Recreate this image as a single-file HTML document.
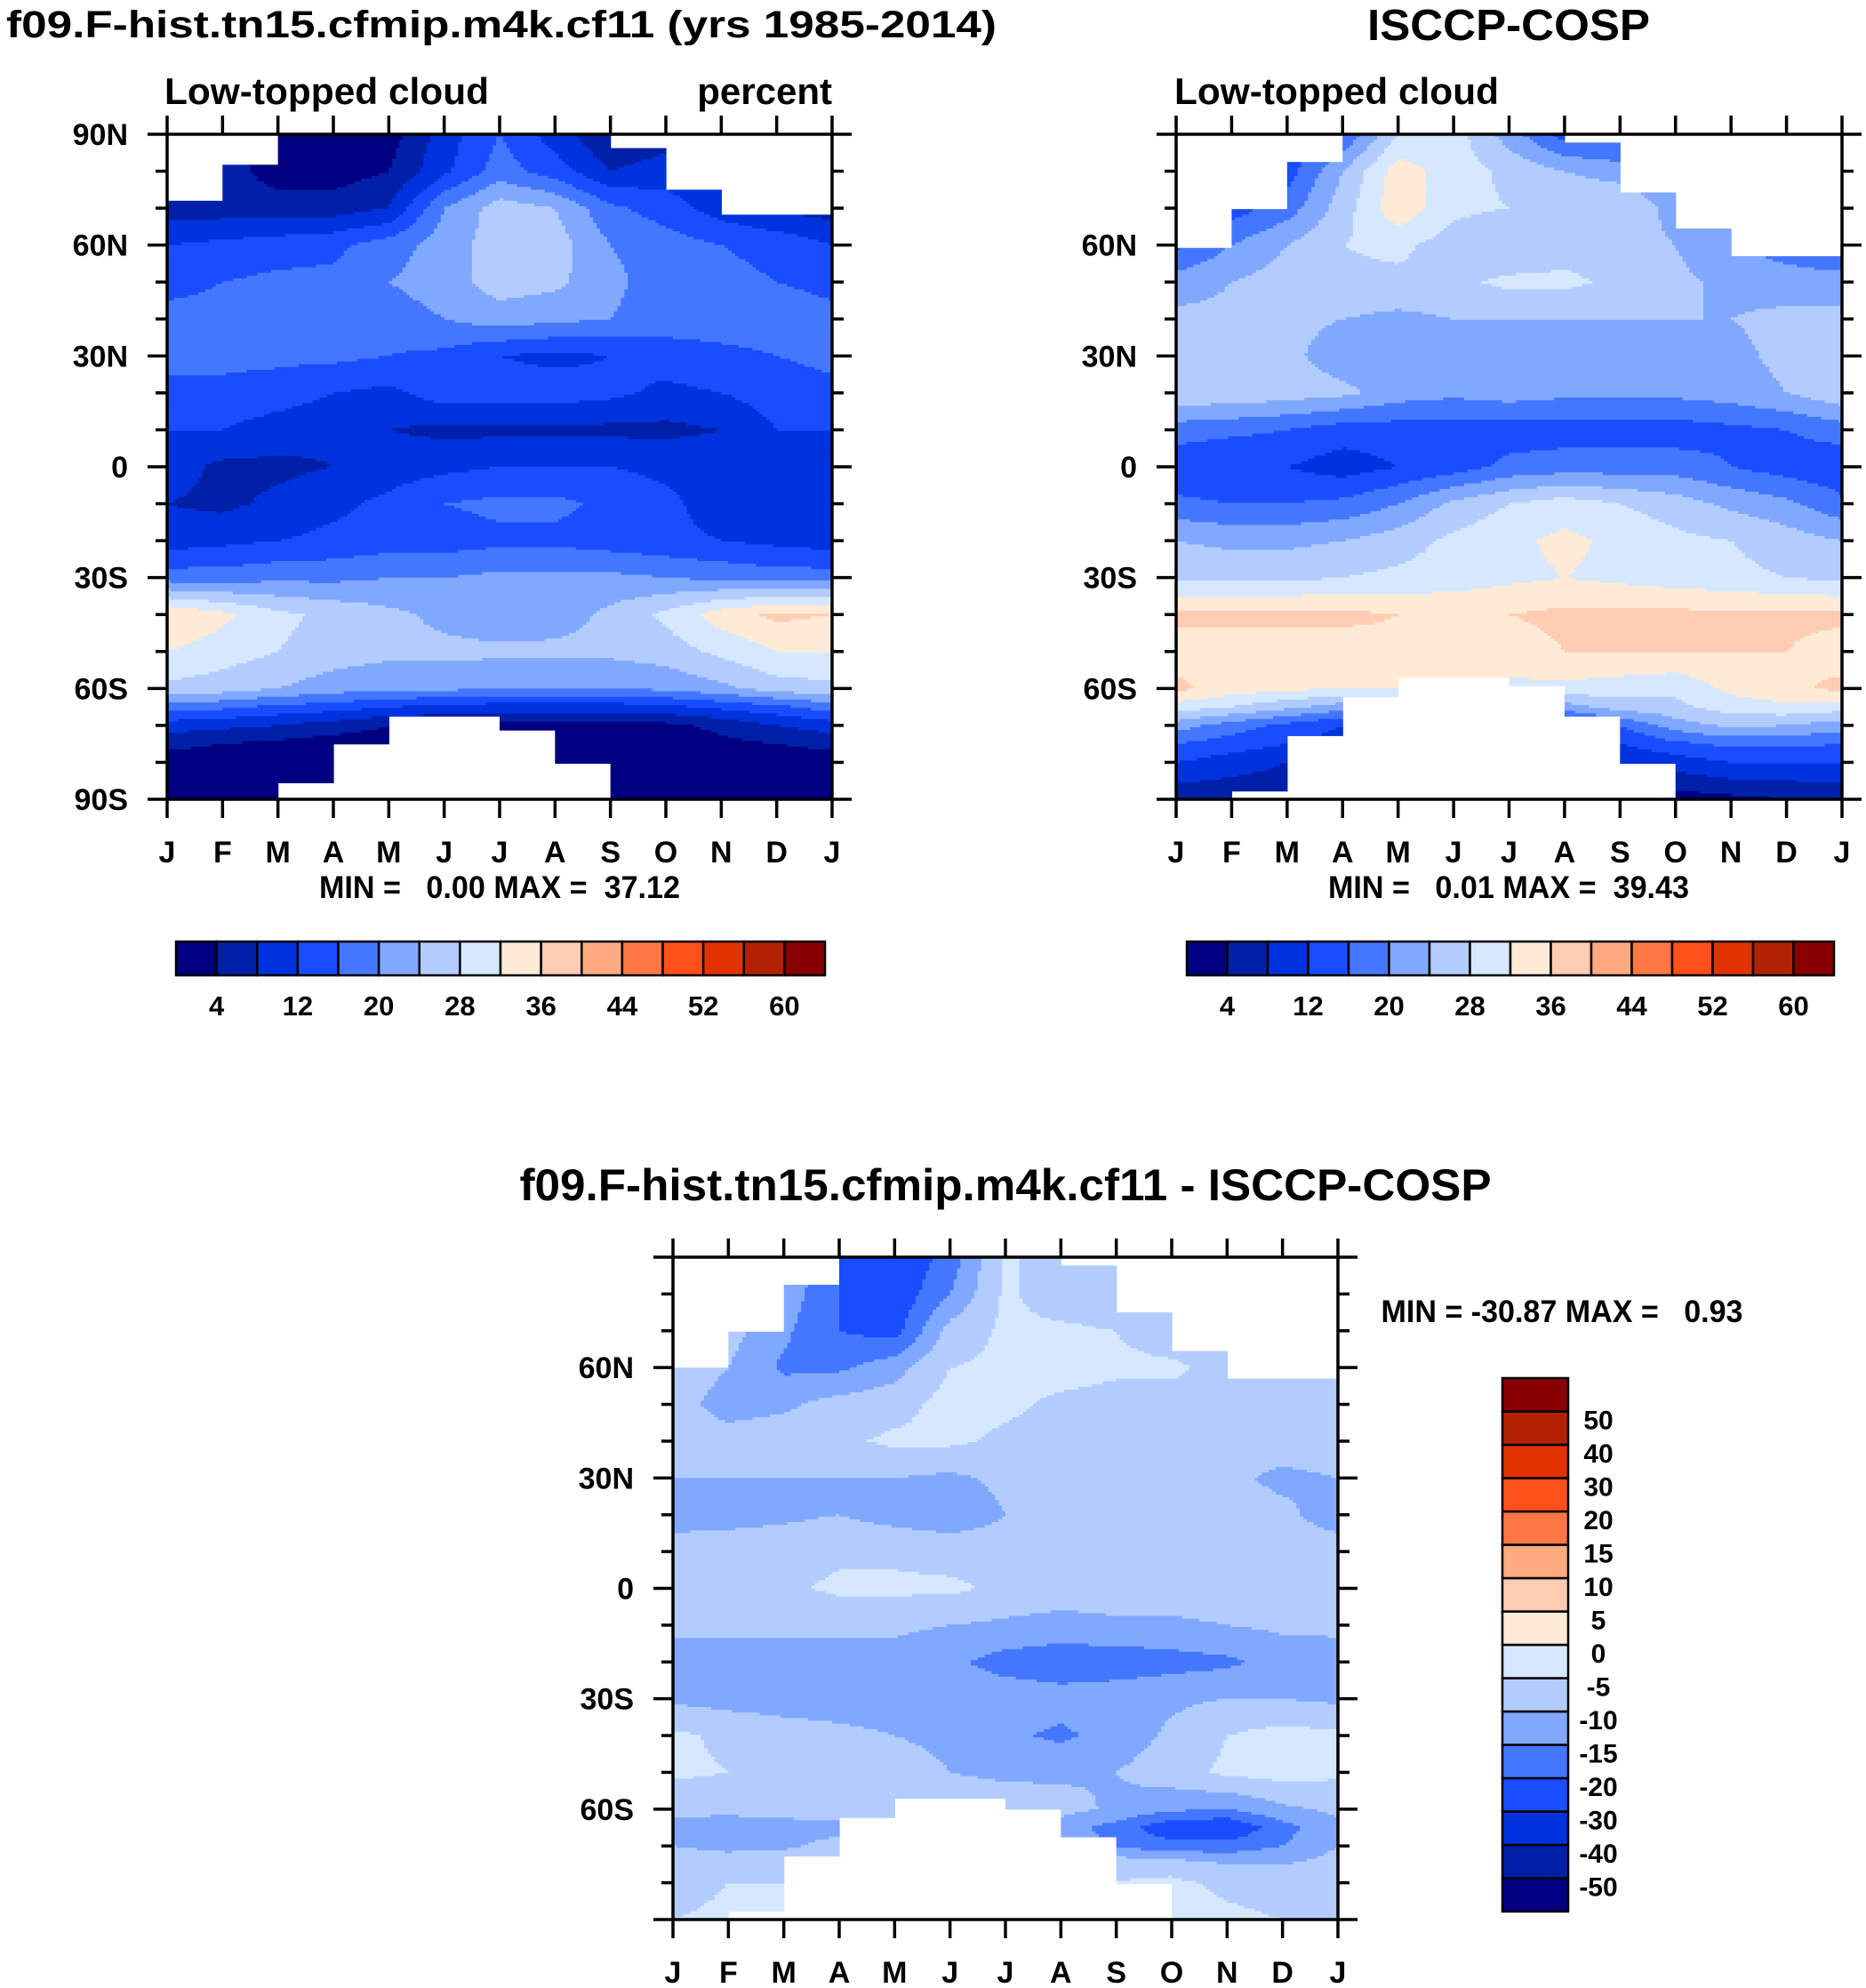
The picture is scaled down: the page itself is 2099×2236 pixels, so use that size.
<!DOCTYPE html>
<html><head><meta charset="utf-8"><style>
html,body{margin:0;padding:0;background:#fff;}
svg{display:block;font-family:"Liberation Sans",Arial,sans-serif;font-weight:bold;}
</style></head><body>
<svg id="root" width="2099" height="2236" viewBox="0 0 2099 2236" xmlns="http://www.w3.org/2000/svg">
<rect x="0" y="0" width="2099" height="2236" fill="#fff"/>
<text x="7" y="42" font-size="43" textLength="1114" lengthAdjust="spacingAndGlyphs">f09.F-hist.tn15.cfmip.m4k.cf11 (yrs 1985-2014)</text>
<text x="1697" y="45" font-size="49" text-anchor="middle" textLength="318" lengthAdjust="spacingAndGlyphs">ISCCP-COSP</text>
<text x="185" y="117" font-size="42" textLength="365" lengthAdjust="spacingAndGlyphs">Low-topped cloud</text>
<text x="936" y="117" font-size="42" text-anchor="end">percent</text>
<text x="1321" y="117" font-size="42" textLength="365" lengthAdjust="spacingAndGlyphs">Low-topped cloud</text>
<text x="562" y="1010" font-size="35" text-anchor="middle" xml:space="preserve" textLength="406" lengthAdjust="spacingAndGlyphs">MIN =   0.00 MAX =  37.12</text>
<text x="1697" y="1010" font-size="35" text-anchor="middle" xml:space="preserve" textLength="406" lengthAdjust="spacingAndGlyphs">MIN =   0.01 MAX =  39.43</text>
<text x="1131" y="1350" font-size="50" text-anchor="middle" textLength="1093" lengthAdjust="spacingAndGlyphs">f09.F-hist.tn15.cfmip.m4k.cf11 - ISCCP-COSP</text>
<text x="1757" y="1487" font-size="35" text-anchor="middle" xml:space="preserve" textLength="407" lengthAdjust="spacingAndGlyphs">MIN = -30.87 MAX =   0.93</text>
<g id="plots"></g>
</svg>
<script>
// ---------- data ----------
const months = ["J","F","M","A","M","J","J","A","S","O","N","D","J"];
const lats = [90,80,70,60,50,40,30,20,10,0,-10,-20,-30,-40,-50,-60,-65,-70,-75,-80,-90];
const absLevels = [4,8,12,16,20,24,28,32,36,40,44,48,52,56,60];
const absLabels = ["4","12","20","28","36","44","52","60"];
const diffLevels = [-50,-40,-30,-20,-15,-10,-5,0,5,10,15,20,30,40,50];
const diffLabels = ["-50","-40","-30","-20","-15","-10","-5","0","5","10","15","20","30","40","50"];
const palette = ["#000080","#0020AA","#0033DD","#1A4DFF","#4477FF","#80A8FF","#B3CCFF","#D6E8FF","#FFEAD6","#FFCCB3","#FFAA80","#FF7744","#FF5019","#E03300","#B22200","#880000"];
const latTicks = [90,60,30,0,-30,-60,-90];
const latTickLabels = ["90N","60N","30N","0","30S","60S","90S"];

const modelNorth = [72.2,81.5,90,90,90,90,90,90,86.3,75,68.3,68.3];
const modelSouth = [-90,-90,-85.3,-74.9,-67.4,-67.4,-71.3,-80.6,-90,-90,-90,-90];
const obsNorth = [59.6,69.9,82.6,90,90,90,90,87.7,74.6,64.8,57.1,57.1];
const obsSouth = [-90,-87.4,-72.4,-62.2,-57.2,-57.2,-59.6,-67.3,-79.9,-90,-90,-90];
const diffNorth = [59.7,69.8,82.4,90,90,90,90,87.7,75.1,64.7,57.2,57.2];
const diffSouth = [-90,-87.9,-72.4,-62.4,-57.3,-57.3,-59.8,-67.3,-80,-90,-90,-90];

const modelVals = [
 [5,5,2,2,2,10,16,10,4,6,6,6,5],
 [6,6,2,2,4,11,18,14,8,10,8,7,6],
 [6,6,6,6,8,20,26,24,17,14,10,7,6],
 [12,13,14,15,18,22,26,26,20,18,16,15,12],
 [15,16,17,17,20,22,26,25,21,18,17,16,15],
 [17,17,17,17,18,20,22,21,20,18,18,18,17],
 [17,17,17,17,16,15,12,11,12,14,15,16,17],
 [15,15,14,12,11,14,14,14,13,11,12,14,15],
 [12,12,10,9,8,7,7,7,7,7,8,12,12],
 [10,7,7,8,10,11,12,12,12,11,10,9,10],
 [8,7,9,11,13,16,17,17,15,13,10,9,8],
 [10,11,12,13,14,14,15,15,14,13,12,11,10],
 [18,18,19,19,20,20,21,21,21,20,19,18,18],
 [36,33,29,27,25,23,21,22,25,29,34,37,36],
 [32,30,28,26,25,25,25,25,25,26,29,32,32],
 [27,26,24,22,21,21,20,20,20,21,23,26,27],
 [18,17,15,14,12,11,10,10,10,11,13,15,18],
 [10,9,8,6,4,3,3,3,3,3,5,8,10],
 [5,4,3,2,2,2,2,2,2,2,3,4,5],
 [2,2,2,2,2,2,2,2,2,2,2,2,2],
 [1,1,1,1,1,1,1,1,1,1,1,1,1]
];
const obsVals = [
 [14,14,14,16,28,30,22,14,14,14,14,14,14],
 [12,12,14,24,34,30,27,24,22,20,18,15,12],
 [14,14,18,26,35,29,28,28,28,22,20,18,14],
 [15,20,24,28,29,26,24,26,26,24,20,18,15],
 [22,24,26,27,27,27,29,29,27,25,23,22,22],
 [25,25,25,24,23,24,24,24,24,24,24,25,25],
 [26,26,25,22,22,21,21,21,21,22,23,25,26],
 [27,27,26,25,22,21,22,21,21,21,22,24,27],
 [18,17,16,14,14,14,14,14,14,14,15,16,18],
 [13,12,12,10,12,14,17,18,18,18,16,14,13],
 [17,16,16,17,20,25,28,30,28,26,23,21,17],
 [24,23,23,24,26,29,31,33,31,29,28,26,24],
 [27,27,27,28,29,30,31,32,31,30,29,28,27],
 [37,37,37,37,36,35,36,37,37,37,37,37,37],
 [34,34,34,34,35,34,34,36,36,36,36,36,34],
 [37,34,33,32,32,31,31,31,30,29,33,35,37],
 [30,28,25,22,22,22,22,22,26,27,30,31,30],
 [22,18,15,12,10,10,10,12,16,22,25,24,22],
 [16,14,12,10,10,10,10,10,12,15,17,17,16],
 [12,10,8,8,8,8,8,8,8,10,12,12,12],
 [5,5,5,5,5,5,5,5,4,2,3,4,5]
];
const diffVals = [
 [-10,-10,-10,-20,-25,-18,-4,-8,-10,-10,-10,-10,-10],
 [-10,-10,-12,-20,-24,-15,-4,-8,-9,-9,-9,-9,-10],
 [-8,-8,-14,-20,-22,-8,-4,-4,-5,-8,-8,-8,-8],
 [-7,-10,-16,-16,-12,-5,-4,-3,-4,-4,-7,-7,-7],
 [-8,-12,-11,-8,-7,-3,-4,-6,-7,-7,-7,-8,-8],
 [-7,-8,-7,-6,-4,-4,-6,-7,-8,-8,-8,-8,-7],
 [-10,-10,-10,-10,-10,-11,-9,-7,-6,-7,-9,-11,-10],
 [-12,-12,-11,-10,-12,-13,-10,-8,-7,-7,-8,-9,-12],
 [-8,-7,-7,-6,-6,-7,-8,-8,-8,-8,-8,-8,-8],
 [-7,-7,-6,-4,-4,-4,-6,-7,-7,-7,-7,-7,-7],
 [-9,-9,-9,-9,-9,-10,-11,-12,-11,-11,-10,-9,-9],
 [-12,-12,-12,-12,-12,-14,-17,-18,-18,-17,-16,-13,-12],
 [-11,-12,-12,-12,-12,-12,-12,-13,-12,-11,-10,-10,-11],
 [-4,-6,-8,-9,-10,-11,-14,-16,-13,-9,-5,-3,-4],
 [-4,-5,-8,-8,-8,-10,-11,-11,-10,-7,-4,-3,-4],
 [-9,-9,-8,-7,-7,-7,-7,-8,-11,-14,-15,-11,-9],
 [-11,-12,-12,-12,-12,-12,-12,-13,-17,-24,-25,-17,-11],
 [-10,-11,-11,-8,-8,-8,-8,-10,-16,-18,-18,-15,-10],
 [-8,-8,-6,-6,-6,-6,-6,-6,-6,-7,-10,-10,-8],
 [-7,-5,-5,-5,-5,-5,-5,-5,-5,-4,-6,-7,-7],
 [-5,-4,-4,-4,-4,-4,-4,-4,-4,-3,-4,-5,-5]
];

// ---------- drawing ----------
const NS = "http://www.w3.org/2000/svg";
const root = document.getElementById("plots");
function mk(tag, attrs, parent){
  const e = document.createElementNS(NS, tag);
  for (const k in attrs) e.setAttribute(k, attrs[k]);
  (parent||root).appendChild(e);
  return e;
}
function sample(grid, mon, lat){
  let j = 0;
  while (j < lats.length-2 && lat < lats[j+1]) j++;
  const t = (lats[j]-lat)/(lats[j]-lats[j+1]);
  let i = Math.min(11, Math.floor(mon));
  const s = mon - i;
  const a = grid[j][i]*(1-s)+grid[j][i+1]*s;
  const b = grid[j+1][i]*(1-s)+grid[j+1][i+1]*s;
  return a*(1-t)+b*t;
}
function levelIndex(v, levels){
  let k = 0;
  while (k < levels.length && v >= levels[k]) k++;
  return k;
}
function drawPlot(name, x0, y0, w, h, grid, levels, north, south, yLabelsAll){
  const g = mk("g", {});
  
  
  const xs = m => x0 + m/12*w;
  const ys = lat => y0 + (90-lat)/180*h;
  const NX = 192, NY = 240;
  for (let r = 0; r < NY; r++){
    const latTop = 90 - r*180/NY, latBot = 90 - (r+1)*180/NY;
    const lat = (latTop+latBot)/2;
    let runStart = 0, runCol = null;
    const flush = (endC) => {
      if (runCol !== null){
        const rc = mk("rect", {x: xs(runStart/NX*12).toFixed(2), y: ys(latTop).toFixed(2),
          width: (xs(endC/NX*12)-xs(runStart/NX*12)+0.6).toFixed(2), height: (ys(latBot)-ys(latTop)+0.6).toFixed(2),
          fill: runCol}, g);
        
        
      }
    };
    for (let c = 0; c < NX; c++){
      const mon = (c+0.5)/NX*12;
      const iv = Math.floor(mon);
      let col;
      if (lat > north[iv] || lat < south[iv]) col = null;
      else col = palette[levelIndex(sample(grid, mon, lat), levels)];
      if (c === 0){ runStart = 0; runCol = col; continue; }
      if (col !== runCol){ flush(c); runStart = c; runCol = col; }
    }
    flush(NX);
  }
  const fr = mk("rect", {x:x0, y:y0, width:w, height:h, fill:"none", stroke:"#000", "stroke-width":3.5}, g);
  
  
  for (let m = 0; m <= 12; m++){
    const x = xs(m);
    mk("line", {x1:x, y1:y0, x2:x, y2:y0-21, stroke:"#000", "stroke-width":3.5}, g);
    mk("line", {x1:x, y1:y0+h, x2:x, y2:y0+h+21, stroke:"#000", "stroke-width":3.5}, g);
    const t = mk("text", {x:x, y:y0+h+71, "font-size":34, "text-anchor":"middle"}, g);
    t.textContent = months[m];
    
    
  }
  for (let lat = 90; lat >= -90; lat -= 10){
    const y = ys(lat);
    const major = lat % 30 === 0;
    const L = major ? 22 : 13;
    mk("line", {x1:x0-L, y1:y, x2:x0, y2:y, stroke:"#000", "stroke-width":3.5}, g);
    mk("line", {x1:x0+w, y1:y, x2:x0+w+L, y2:y, stroke:"#000", "stroke-width":3.5}, g);
  }
  latTicks.forEach((lat, k) => {
    if (!yLabelsAll && Math.abs(lat) === 90) return;
    const t = mk("text", {x:x0-44, y:ys(lat)+12, "font-size":34, "text-anchor":"end"}, g);
    t.textContent = latTickLabels[k];
    
    
  });
}
function hBar(name, x0, y0, w, h, labels){
  const g = mk("g", {});
  
  
  const bw = w/palette.length;
  palette.forEach((c, i) => {
    const r = mk("rect", {x:x0+i*bw, y:y0, width:bw, height:h, fill:c, stroke:"#000", "stroke-width":2.5}, g);
    
    
  });
  labels.forEach((lab, k) => {
    const x = x0 + (2*k+1)*bw;
    const t = mk("text", {x:x, y:y0+h+45, "font-size":31, "text-anchor":"middle"}, g);
    t.textContent = lab;
    
    
  });
}
function vBar(name, x0, y0, w, h, labels){
  const g = mk("g", {});
  
  
  const bh = h/palette.length;
  palette.forEach((c, i) => {
    const r = mk("rect", {x:x0, y:y0+(palette.length-1-i)*bh, width:w, height:bh, fill:c, stroke:"#000", "stroke-width":2.5}, g);
    
    
  });
  labels.forEach((lab, k) => {
    const y = y0 + h - (k+1)*bh;
    const t = mk("text", {x:x0+w+34, y:y+20, "font-size":30, "text-anchor":"middle"}, g);
    t.textContent = lab;
    
    
  });
}
drawPlot("model", 188, 151, 748, 748, modelVals, absLevels, modelNorth, modelSouth, true);
drawPlot("obs", 1323, 151, 749, 748, obsVals, absLevels, obsNorth, obsSouth, false);
drawPlot("diff", 757, 1414, 748, 745, diffVals, diffLevels, diffNorth, diffSouth, false);
hBar("model", 198, 1059, 730, 38, absLabels);
hBar("obs", 1335, 1059, 728, 38, absLabels);
vBar("diff", 1690, 1550, 74, 600, diffLabels);
</script>
</body></html>
